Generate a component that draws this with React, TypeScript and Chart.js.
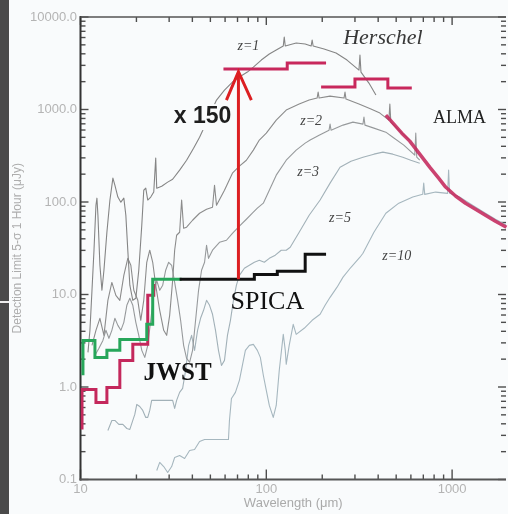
import React, { useEffect, useRef } from "react";
import { Chart, registerables } from "chart.js";
Chart.register(...registerables);

type P = [number, number];

// ---- axis tick labels ----
const yDecades = [0.1, 1, 10, 100, 1000, 10000];
const yTickLabels = ["0.1", "1.0", "10.0", "100.0", "1000.0", "10000.0"];
const xDecades = [10, 100, 1000];
const xTickLabels = ["10", "100", "1000"];

// ---- model SEDs (wavelength um, flux uJy) ----
const z1Sed: P[] = [
  [10.97, 2.37], [11.24, 4.1], [11.53, 11.1], [11.82, 30.1], [12.11, 92.3], [12.26, 110], [12.41, 71.9], [12.72, 20.7],
  [13.04, 11.1], [13.37, 18.3], [13.87, 47.1], [14.4, 105], [14.94, 181], [15.31, 152], [15.89, 113], [16.49, 99.5],
  [17.11, 110], [17.54, 71.9], [17.97, 30.1], [18.43, 12.6], [19.12, 8.65], [19.85, 9.09], [20.59, 18.3], [21.37, 56.1],
  [21.9, 134], [22.45, 141], [23.01, 105], [23.88, 113], [24.79, 128], [25.4, 298], [25.72, 141], [27.35, 148],
  [29.46, 164], [31.33, 176], [34.16, 221], [37.24, 283], [40.6, 382], [43.74, 502], [48.28, 768], [53.95, 1264],
  [59.55, 1622], [65.72, 1980], [71.65, 2242], [79.08, 2540], [85.17, 2877], [94.0, 3424], [103.8, 3978], [113.1, 4393],
  [123.4, 4855], [124.9, 6075], [126.5, 4855], [144.8, 5232], [161.9, 5103], [174.3, 4855], [176.5, 5638], [178.7, 4855],
  [204.6, 4505], [237.3, 4077], [271.9, 3424], [315.3, 2670], [319.2, 3879], [323.2, 2540], [356.7, 1931], [388.9, 1432],
];
const z2Sed: P[] = [
  [11.53, 2.82], [12.11, 4.1], [12.72, 5.53], [13.37, 3.62], [14.04, 8.65], [14.75, 13.5], [15.5, 9.8], [16.28, 8.65],
  [17.11, 16.1], [17.97, 24.6], [18.66, 20.7], [19.36, 11.1], [20.34, 8.65], [21.1, 5.26], [21.9, 8.65], [22.73, 22.3],
  [23.59, 30.1], [24.47, 22.3], [25.4, 12.6], [26.69, 6.75], [28.04, 4.1], [29.09, 3.62], [30.19, 5.95], [31.33, 14.2],
  [32.12, 30.1], [32.91, 43.7], [34.16, 47.1], [35.02, 105], [35.89, 52.0], [37.24, 53.4], [40.1, 63.5], [43.74, 75.6],
  [47.69, 83.6], [51.35, 87.8], [52.64, 152], [53.95, 92.3], [59.55, 134], [65.72, 205], [71.65, 244], [78.12, 283],
  [85.17, 364], [91.72, 467], [100, 555], [113.1, 768], [128.0, 985], [150.3, 1144], [170.1, 1264], [187.7, 1329],
  [190.1, 1543], [192.4, 1329], [220.4, 1396], [262.0, 1329], [265.2, 1543], [268.5, 1296], [315.3, 1144], [365.6, 1010],
  [408.6, 914], [456.6, 768], [462.3, 1144], [468.0, 730], [516.6, 598], [591.8, 467],
];
const z3Sed: P[] = [
  [11.96, 2.2], [12.57, 2.62], [13.2, 3.19], [13.7, 4.1], [14.22, 3.36], [14.75, 4.1], [15.31, 5.53], [15.89, 4.64],
  [16.49, 4.1], [17.11, 5.0], [17.76, 7.64], [18.43, 9.09], [19.12, 7.64], [19.85, 5.0], [20.59, 3.62], [21.37, 2.49],
  [22.18, 2.09], [23.01, 2.82], [23.88, 5.26], [24.79, 9.8], [25.72, 14.2], [26.69, 11.1], [27.7, 12.6], [28.74, 18.3],
  [29.82, 22.3], [30.95, 20.7], [32.12, 13.5], [33.33, 8.65], [34.58, 5.26], [35.89, 2.82], [37.24, 2.04], [38.65, 1.85],
  [40.1, 2.49], [41.63, 5.26], [43.19, 11.1], [44.83, 18.3], [46.53, 22.3], [47.69, 34.1], [48.87, 24.6], [51.35, 30.1],
  [55.98, 36.7], [61.03, 38.6], [65.72, 45.9], [71.65, 54.7], [78.12, 65.1], [84.12, 75.6], [89.5, 85.7], [96.37, 97.1],
  [103.8, 134], [113.1, 195], [128.0, 283], [144.8, 364], [161.9, 433], [172.2, 467], [192.4, 528], [217.6, 598],
  [220.4, 695], [223.1, 598], [258.8, 678], [292.7, 730], [331.3, 695], [335.4, 828], [339.6, 678], [379.5, 629],
  [439.9, 569], [479.7, 502], [549.5, 412], [629.5, 321], [637.4, 555], [645.3, 305], [669.6, 283],
];
const z5Sed: P[] = [
  [14.04, 0.339], [14.75, 0.435], [15.31, 0.435], [16.08, 0.394], [16.9, 0.394], [17.76, 0.356], [18.43, 0.348],
  [19.12, 0.435], [19.6, 0.505], [20.09, 0.648], [20.84, 0.616], [21.63, 0.558], [22.45, 0.469], [23.01, 0.469],
  [23.59, 0.558], [24.16, 0.716], [27.35, 0.716], [31.33, 0.716], [32.12, 0.586], [32.91, 0.716], [34.16, 0.874],
  [35.45, 0.965], [36.79, 1.51], [38.18, 2.82], [39.62, 3.62], [41.11, 2.49], [42.66, 4.1], [44.28, 5.53], [45.95, 6.75],
  [47.69, 8.65], [49.49, 7.64], [51.35, 6.11], [53.29, 4.1], [55.28, 2.49], [57.38, 1.71], [59.55, 1.94], [61.79, 3.62],
  [64.12, 5.26], [66.54, 8.65], [69.06, 12.6], [71.65, 16.1], [76.21, 19.2], [81.06, 20.7], [86.23, 22.3], [91.72, 23.4],
  [97.57, 22.3], [103.8, 24.6], [111.8, 26.6], [120.3, 30.1], [128.0, 30.1], [134.5, 32.4], [150.3, 47.1], [170.1, 71.9],
  [194.8, 105], [220.4, 160], [249.4, 238], [285.6, 276], [331.3, 305], [379.5, 329], [424.1, 346], [479.7, 329],
  [542.8, 305], [599.3, 283], [669.6, 263],
];
const z10Sed: P[] = [
  [25.72, 0.125], [26.69, 0.153], [28.04, 0.138], [29.46, 0.119], [30.95, 0.138], [32.12, 0.173], [34.16, 0.182],
  [36.34, 0.169], [38.65, 0.206], [41.11, 0.211], [43.74, 0.258], [46.53, 0.271], [62.56, 0.271], [63.33, 0.435],
  [64.92, 0.752], [68.2, 0.874], [71.65, 1.18], [74.35, 1.71], [77.16, 2.49], [81.06, 2.82], [85.17, 2.89], [89.5, 2.49],
  [92.87, 2.09], [96.37, 1.34], [100, 0.919], [103.8, 0.632], [109.0, 0.469], [113.1, 0.632], [117.4, 1.51], [123.4, 3.71],
  [126.5, 2.49], [128.0, 1.76], [132.8, 2.82], [139.6, 4.76], [144.8, 3.71], [159.9, 4.31], [176.5, 5.26], [194.8, 6.11],
  [207.2, 7.64], [220.4, 9.32], [240.3, 12.0], [258.8, 15.4], [285.6, 19.7], [319.2, 25.3], [331.3, 27.9], [379.5, 47.1],
  [439.9, 75.6], [516.6, 97.1], [614.2, 113], [694.8, 121], [703.5, 160], [712.3, 121], [815.5, 128], [946, 124],
  [957.6, 221], [969.6, 124], [1097, 113], [1288, 92.3], [1512, 75.6], [1711, 65.1], [1960, 56.1],
];

// ---- instrument sensitivities ----
const jwstGreen: P[] = [
  [10.31, 1.34], [10.31, 3.19], [11.96, 3.19], [11.96, 2.09], [13.87, 2.09], [13.87, 2.49], [16.28, 2.49], [16.28, 3.27],
  [22.73, 3.27], [22.73, 4.76], [24.47, 4.76], [24.47, 14.6], [35.02, 14.6],
];
const jwstMagenta: P[] = [
  [10.19, 0.348], [10.19, 0.942], [12.11, 0.942], [12.11, 0.681], [13.87, 0.681], [13.87, 0.99], [16.28, 0.99],
  [16.28, 1.94], [19.12, 1.94], [19.12, 2.89], [23.01, 2.89], [23.01, 9.8], [24.79, 9.8], [24.79, 13.0],
];
const spica: P[] = [
  [34.16, 14.6], [86.23, 14.6], [86.23, 16.5], [114.6, 16.5], [114.6, 17.8], [161.9, 17.8], [161.9, 27.2], [209.7, 27.2],
];
const herschelPacs: P[] = [[58.8, 2737], [129.6, 2737], [129.6, 3178], [209.7, 3178]];
const herschelSpire: P[] = [[197.2, 1747], [300.0, 1747], [300.0, 2133], [451.0, 2133], [451.0, 1704], [606.7, 1704]];
const alma: P[] = [
  [439.9, 870], [485.8, 695], [536.1, 555], [591.8, 455], [669.6, 329], [757.5, 238], [846.4, 181], [922.9, 145],
  [1044, 116], [1181, 97.0], [1337, 83.6], [1512, 71.9], [1711, 62.0], [1960, 53.4],
];
const arrowShaft: P[] = [[70.8, 14.6], [70.8, 2400]];
const arrowHead: P[] = [[61.0, 1264], [70.8, 2560], [83.1, 1264]];

// ---- annotations ----
const notes = [
  { text: "Herschel", at: [424, 5925], font: 'italic 22px "Liberation Serif"', color: "#383838", bg: false },
  { text: "z=1", at: [80.1, 4855], font: 'italic 14px "Liberation Serif"', color: "#444", bg: false },
  { text: "z=2", at: [174.3, 749], font: 'italic 14px "Liberation Serif"', color: "#444", bg: false },
  { text: "z=3", at: [168.0, 210], font: 'italic 14px "Liberation Serif"', color: "#444", bg: false },
  { text: "z=5", at: [249.4, 66.8], font: 'italic 14px "Liberation Serif"', color: "#444", bg: false },
  { text: "z=10", at: [504, 25.9], font: 'italic 14px "Liberation Serif"', color: "#444", bg: false },
  { text: "ALMA", at: [1097, 807], font: '18px "Liberation Serif"', color: "#222", bg: false },
  { text: "x 150", at: [45.4, 828], font: 'bold 23px "Liberation Sans"', color: "#1e1e1e", bg: true },
  { text: "SPICA", at: [101.3, 8.23], font: '26px "Liberation Serif"', color: "#111", bg: false },
  { text: "JWST", at: [33.3, 1.4], font: 'bold 25px "Liberation Serif"', color: "#111", bg: false },
];

const isDecade = (v: number) => Math.abs(Math.log10(v) - Math.round(Math.log10(v))) < 1e-6;
const isNice = (v: number) => {
  const m = v / Math.pow(10, Math.floor(Math.log10(v) + 1e-9));
  return Math.abs(m - Math.round(m)) < 1e-6;
};

const line = (pts: P[], color: string, width: number, extra: any = {}) => ({
  data: pts.map(([x, y]) => ({ x, y })),
  borderColor: color,
  borderWidth: width,
  pointRadius: 0,
  fill: false,
  tension: 0,
  borderJoinStyle: "round",
  ...extra,
});

const figurePlugin = {
  id: "figure",
  beforeDraw(chart: any) {
    const { ctx, width, height } = chart;
    ctx.save();
    ctx.fillStyle = "#f9fbfc";
    ctx.fillRect(0, 0, width, height);
    ctx.fillStyle = "#4a4a4a";
    ctx.fillRect(0, 0, 9, height);
    ctx.fillStyle = "#eeeeee";
    ctx.fillRect(0, 301, 9, 2);
    ctx.restore();
  },
  beforeDatasetsDraw(chart: any) {
    const { ctx } = chart;
    const { left, right, top, bottom } = chart.chartArea;
    const xs = chart.scales.x;
    const ys = chart.scales.y;
    const seg = (x1: number, y1: number, x2: number, y2: number) => {
      ctx.beginPath();
      ctx.moveTo(x1, y1);
      ctx.lineTo(x2, y2);
      ctx.stroke();
    };
    ctx.save();
    ctx.strokeStyle = "#4d4d4d";
    ctx.lineWidth = 1.4;
    for (const t of xs.ticks) {
      const v = t.value;
      if (!isNice(v)) continue;
      const px = xs.getPixelForValue(v);
      const major = isDecade(v);
      seg(px, bottom, px, bottom - (major ? 10 : 5));
      seg(px, top, px, top + (major ? 8 : 5));
    }
    for (const t of ys.ticks) {
      const v = t.value;
      if (!isNice(v)) continue;
      const py = ys.getPixelForValue(v);
      const major = isDecade(v);
      seg(left, py, left + (major ? 8 : 5), py);
      seg(right, py, right - (major ? 8 : 5), py);
    }
    ctx.strokeStyle = "#333";
    ctx.lineWidth = 2;
    seg(left, top - 1, left, bottom + 1);
    ctx.strokeStyle = "#555";
    ctx.lineWidth = 2.2;
    seg(left - 1, bottom, right, bottom);
    ctx.lineWidth = 1.6;
    seg(left, top, right, top);
    ctx.restore();
  },
  afterDatasetsDraw(chart: any) {
    const { ctx } = chart;
    const xs = chart.scales.x;
    const ys = chart.scales.y;
    ctx.save();
    ctx.textAlign = "center";
    ctx.textBaseline = "middle";
    for (const n of notes) {
      const px = xs.getPixelForValue(n.at[0]);
      const py = ys.getPixelForValue(n.at[1]);
      ctx.font = n.font;
      if (n.bg) {
        const w = ctx.measureText(n.text).width;
        ctx.fillStyle = "#f9fbfc";
        ctx.fillRect(px - w / 2 - 3, py - 13, w + 6, 26);
      }
      ctx.fillStyle = n.color;
      ctx.fillText(n.text, px, py);
    }
    ctx.restore();
  },
};

export default function App() {
  const ref = useRef<HTMLCanvasElement>(null);
  useEffect(() => {
    document.body.style.margin = "0";
    const gray1 = "#858585";
    const gray2 = "#8c8c8c";
    const gray3 = "#979a9c";
    const blue5 = "#a2b1b8";
    const blue10 = "#a6b7bf";
    const chart = new Chart(ref.current as HTMLCanvasElement, {
      type: "line",
      data: {
        datasets: [
          line(arrowHead, "#dc1f22", 3, { borderJoinStyle: "miter" }),
          line(arrowShaft, "#dc1f22", 3),
          line(alma, "rgba(196,40,92,0.88)", 3.5, { clip: false }),
          line(herschelPacs, "#c8285c", 3, { borderJoinStyle: "miter" }),
          line(herschelSpire, "#c8285c", 3, { borderJoinStyle: "miter" }),
          line(spica, "#111111", 3, { borderJoinStyle: "miter" }),
          line(jwstGreen, "#27a65a", 3, { borderJoinStyle: "miter" }),
          line(jwstMagenta, "#c4285c", 3, { borderJoinStyle: "miter" }),
          line(z1Sed, gray1, 1.1),
          line(z2Sed, gray2, 1.1),
          line(z3Sed, gray3, 1.1),
          line(z5Sed, blue5, 1.1),
          line(z10Sed, blue10, 1.1),
        ] as any,
      },
      options: {
        responsive: false,
        devicePixelRatio: 1,
        animation: false,
        events: [],
        layout: { padding: { top: 17, left: 0, right: 0, bottom: 0 } },
        plugins: { legend: { display: false }, tooltip: { enabled: false } },
        scales: {
          x: {
            type: "logarithmic",
            min: 10,
            max: 1950,
            afterFit: (s: any) => {
              s.height = 34.5;
            },
            grid: { display: false, drawTicks: false, tickLength: 0 },
            border: { display: false },
            ticks: {
              autoSkip: false,
              maxRotation: 0,
              minRotation: 0,
              padding: 2,
              color: "#b4b4b4",
              font: { family: "Liberation Sans", size: 13 },
              callback: (v: any) => {
                const i = xDecades.findIndex((d) => Math.abs(d - Number(v)) < 1e-9);
                return i >= 0 ? xTickLabels[i] : "";
              },
            },
            title: {
              display: true,
              text: "Wavelength (μm)",
              color: "#aaaaaa",
              font: { family: "Liberation Sans", size: 13 },
              padding: { top: 0, bottom: 3 },
            },
          },
          y: {
            type: "logarithmic",
            min: 0.1,
            max: 10000,
            afterFit: (s: any) => {
              s.width = 80.5;
            },
            grid: { display: false, drawTicks: false, tickLength: 0 },
            border: { display: false },
            ticks: {
              autoSkip: false,
              padding: 3.5,
              color: "#b4b4b4",
              font: { family: "Liberation Sans", size: 13 },
              callback: (v: any) => {
                const i = yDecades.findIndex((d) => Math.abs(d - Number(v)) < 1e-9 * Math.max(1, d));
                return i >= 0 ? yTickLabels[i] : "";
              },
            },
            title: {
              display: true,
              text: "Detection Limit 5-σ 1 Hour (μJy)",
              color: "#adadad",
              font: { family: "Liberation Sans", size: 12 },
              padding: { top: 10, bottom: 0 },
            },
          },
        },
      } as any,
      plugins: [figurePlugin as any],
    });
    return () => chart.destroy();
  }, []);
  return (
    <div style={{ position: "fixed", left: 0, top: 0, width: 508, height: 514 }}>
      <canvas ref={ref} width={508} height={514} style={{ width: 508, height: 514, display: "block" }} />
    </div>
  );
}
